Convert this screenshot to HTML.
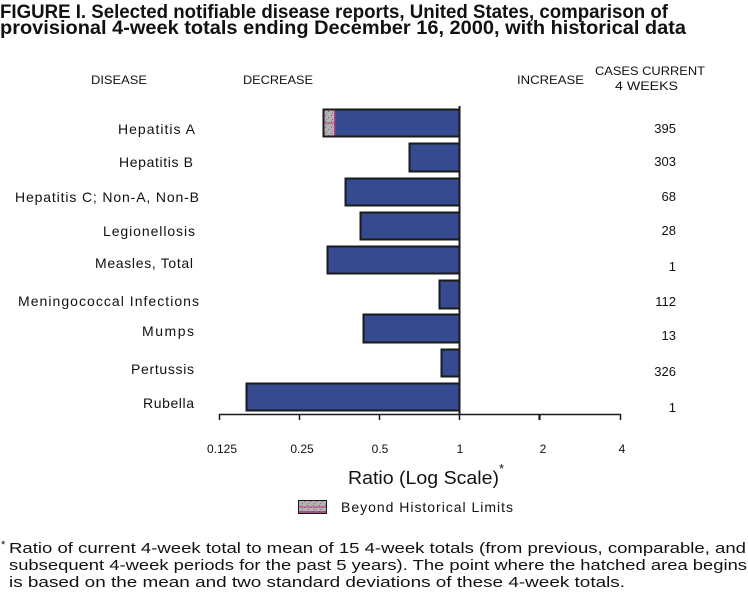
<!DOCTYPE html>
<html>
<head>
<meta charset="utf-8">
<style>
html,body{margin:0;padding:0;background:#fff;}
svg{display:block;}
text{font-family:"Liberation Sans",Arial,sans-serif;fill:#111;}
</style>
</head>
<body>
<svg width="748" height="593" viewBox="0 0 748 593" xmlns="http://www.w3.org/2000/svg">
<defs>
<pattern id="hatch" width="6" height="6" patternUnits="userSpaceOnUse">
<rect width="6" height="6" fill="#b3b1b3"/>
<rect x="1" y="1" width="1" height="1" fill="#b0407f"/>
<rect x="4" y="3" width="1" height="1" fill="#b0407f"/>
<rect x="2" y="5" width="1" height="1" fill="#7a7a7a"/>
</pattern>
</defs>

<!-- Title -->
<text x="0" y="18" font-size="19" font-weight="bold" textLength="668" lengthAdjust="spacingAndGlyphs">FIGURE I. Selected notifiable disease reports, United States, comparison of</text>
<text x="0" y="34" font-size="19" font-weight="bold" textLength="686" lengthAdjust="spacingAndGlyphs">provisional  4-week  totals  ending  December  16, 2000,  with  historical  data</text>

<!-- Headers -->
<text x="91" y="84" font-size="12" textLength="56" lengthAdjust="spacingAndGlyphs">DISEASE</text>
<text x="243" y="84" font-size="12" textLength="70" lengthAdjust="spacingAndGlyphs">DECREASE</text>
<text x="517" y="84" font-size="12" textLength="67" lengthAdjust="spacingAndGlyphs">INCREASE</text>
<text x="595" y="75" font-size="12" textLength="110" lengthAdjust="spacingAndGlyphs">CASES CURRENT</text>
<text x="615" y="90" font-size="12" textLength="63" lengthAdjust="spacingAndGlyphs">4 WEEKS</text>

<!-- Disease labels -->
<g font-size="14">
<text x="118" y="134" textLength="77" lengthAdjust="spacing">Hepatitis A</text>
<text x="119" y="167" textLength="74" lengthAdjust="spacing">Hepatitis B</text>
<text x="15" y="202" textLength="184" lengthAdjust="spacing">Hepatitis C; Non-A, Non-B</text>
<text x="103" y="236" textLength="92" lengthAdjust="spacing">Legionellosis</text>
<text x="95" y="268" textLength="98" lengthAdjust="spacing">Measles, Total</text>
<text x="18" y="306" textLength="181" lengthAdjust="spacing">Meningococcal Infections</text>
<text x="142" y="336" textLength="52" lengthAdjust="spacing">Mumps</text>
<text x="131" y="374" textLength="63" lengthAdjust="spacing">Pertussis</text>
<text x="143" y="408" textLength="51" lengthAdjust="spacing">Rubella</text>
</g>

<!-- Counts -->
<g font-size="13" text-anchor="end">
<text x="676" y="133">395</text>
<text x="676" y="166">303</text>
<text x="676" y="201">68</text>
<text x="676" y="235">28</text>
<text x="676" y="271">1</text>
<text x="676" y="306">112</text>
<text x="676" y="340">13</text>
<text x="676" y="376">326</text>
<text x="676" y="412">1</text>
</g>

<!-- Bars -->
<g fill="#354a8f" stroke="#1a1a1a" stroke-width="2">
<rect x="323.5" y="109.5" width="136" height="27"/>
<rect x="409.5" y="143.5" width="50" height="28"/>
<rect x="345.5" y="178.5" width="114" height="27"/>
<rect x="360.5" y="212.5" width="99" height="27"/>
<rect x="327.5" y="246.5" width="132" height="27"/>
<rect x="439.5" y="280.5" width="20" height="28"/>
<rect x="363.5" y="314.5" width="96" height="28"/>
<rect x="441.5" y="349.5" width="18" height="27"/>
<rect x="246.5" y="383.5" width="213" height="27"/>
</g>
<!-- hatched part of Hepatitis A -->
<rect x="323.5" y="110" width="11.5" height="26" fill="url(#hatch)" stroke="none"/>
<line x1="323.5" y1="123" x2="335" y2="123" stroke="#b0407f" stroke-width="1"/>
<line x1="335" y1="110" x2="335" y2="136" stroke="#a0307f" stroke-width="1.5"/>
<rect x="323.5" y="109.5" width="136" height="27" fill="none" stroke="#1a1a1a" stroke-width="2"/>

<!-- Vertical reference line at 1 -->
<line x1="459.5" y1="106" x2="459.5" y2="415" stroke="#1a1a1a" stroke-width="2"/>

<!-- X axis -->
<line x1="219" y1="414.5" x2="621" y2="414.5" stroke="#1a1a1a" stroke-width="1.5"/>
<g stroke="#1a1a1a" stroke-width="1.5">
<line x1="219.5" y1="414" x2="219.5" y2="420"/>
<line x1="299.5" y1="414" x2="299.5" y2="420"/>
<line x1="379.5" y1="414" x2="379.5" y2="420"/>
<line x1="459.5" y1="414" x2="459.5" y2="420"/>
<line x1="539.5" y1="414" x2="539.5" y2="420" stroke-width="2.2"/>
<line x1="620.5" y1="414" x2="620.5" y2="420"/>
</g>
<g font-size="12" text-anchor="middle">
<text x="222" y="453">0.125</text>
<text x="302" y="453">0.25</text>
<text x="380" y="453">0.5</text>
<text x="460" y="453">1</text>
<text x="543" y="453">2</text>
<text x="622" y="453">4</text>
</g>

<!-- Axis title -->
<text x="348" y="484" font-size="18" textLength="151" lengthAdjust="spacingAndGlyphs">Ratio (Log Scale)</text>
<text x="499" y="473" font-size="13">*</text>

<!-- Legend -->
<rect x="298.5" y="500.5" width="28" height="13" fill="url(#hatch)" stroke="#1a1a1a" stroke-width="1"/>
<line x1="299" y1="507" x2="326" y2="507" stroke="#b0407f" stroke-width="1"/>
<line x1="299" y1="512" x2="326" y2="512" stroke="#a0307f" stroke-width="1.5"/>
<text x="341" y="512" font-size="14" textLength="172" lengthAdjust="spacing">Beyond Historical Limits</text>

<!-- Footnote -->
<text x="1" y="548" font-size="11">*</text>
<text x="9" y="553" font-size="15" textLength="737" lengthAdjust="spacingAndGlyphs">Ratio of current 4-week total to mean of 15 4-week totals (from previous, comparable, and</text>
<text x="9" y="570" font-size="15" textLength="738" lengthAdjust="spacingAndGlyphs">subsequent 4-week periods for the past 5 years). The point where the hatched area begins</text>
<text x="9" y="587" font-size="15" textLength="616" lengthAdjust="spacingAndGlyphs">is based on the mean and two standard deviations of these 4-week totals.</text>
</svg>
</body>
</html>
